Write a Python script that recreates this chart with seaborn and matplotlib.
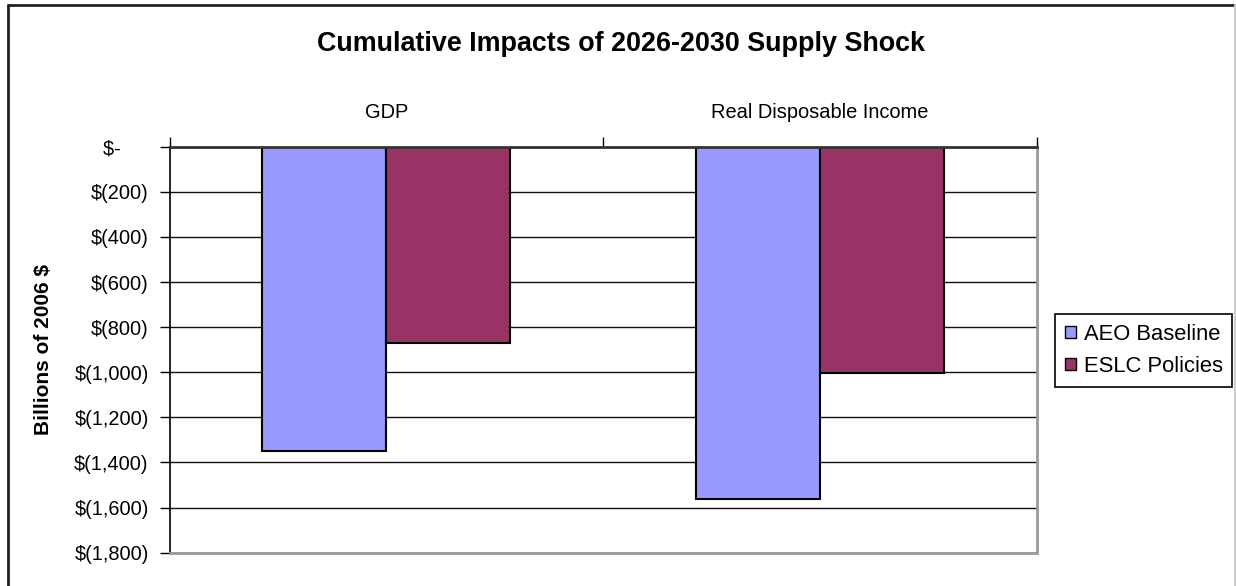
import matplotlib
matplotlib.use("Agg")
import matplotlib.pyplot as plt
import seaborn as sns
import pandas as pd
from matplotlib.ticker import FuncFormatter, FixedLocator
from matplotlib.lines import Line2D
from matplotlib.patches import Patch

# ---- data ----
categories = ["GDP", "Real Disposable Income"]
series_names = ["AEO Baseline", "ESLC Policies"]
aeo_baseline = [-1350, -1560]
eslc_policies = [-870, -1005]
colors = ["#9999FF", "#993366"]
y_ticks = [0, -200, -400, -600, -800, -1000, -1200, -1400, -1600, -1800]
title = "Cumulative Impacts of 2026-2030 Supply Shock"
ylabel = "Billions of 2006 $"

df = pd.DataFrame({
    "category": categories * 2,
    "series": [series_names[0]] * len(categories) + [series_names[1]] * len(categories),
    "value": aeo_baseline + eslc_policies,
})

sns.set_theme(style="white")
plt.rcParams["font.family"] = ["Liberation Sans", "DejaVu Sans"]
plt.rcParams["text.color"] = "black"
plt.rcParams["axes.labelcolor"] = "black"
plt.rcParams["xtick.color"] = "black"
plt.rcParams["ytick.color"] = "black"

W, H = 1236, 586
fig = plt.figure(figsize=(W / 100, H / 100), dpi=100)
fig.patch.set_facecolor("white")

L, R, T, B = 169.5, 1036.6, 146.7, 552.7
ax = fig.add_axes([L / W, 1 - B / H, (R - L) / W, (B - T) / H])

sns.barplot(data=df, x="category", y="value", hue="series", order=categories,
            hue_order=series_names, palette=colors, edgecolor="black",
            linewidth=1.5, width=0.572, gap=0, saturation=1, ax=ax, legend=False)

ax.set_ylim(min(y_ticks), max(y_ticks))
ax.set_xlim(-0.5, len(categories) - 0.5)
ax.set_yticks(y_ticks)


def fmt(v, pos):
    if v == 0:
        return "$-     "
    return "$({:,.0f})".format(abs(v))


ax.yaxis.set_major_formatter(FuncFormatter(fmt))
ax.yaxis.grid(True, color="#111111", linewidth=1.0)
ax.set_axisbelow(True)

ax.xaxis.tick_top()
ax.xaxis.set_label_position("top")
ax.set_xlabel("")
ax.tick_params(axis="x", which="major", length=0, pad=18, labelsize=14.4,
               top=True, bottom=False, colors="black")
ax.xaxis.set_minor_locator(FixedLocator([-0.5 + i for i in range(len(categories) + 1)]))
ax.tick_params(axis="x", which="minor", length=7, width=1, color="black",
               top=True, bottom=False)
ax.tick_params(axis="y", which="major", length=7, width=1, color="black",
               left=True, pad=8, labelsize=14.4, labelcolor="black")

ax.set_ylabel(ylabel, fontsize=15, fontweight="bold", color="black", va="center")
ax.yaxis.set_label_coords((44 - L) / (R - L), 0.5)

ax.spines["top"].set_color("#333333")
ax.spines["top"].set_linewidth(2)
ax.spines["left"].set_color("black")
ax.spines["left"].set_linewidth(1.2)
for s in ["right", "bottom"]:
    ax.spines[s].set_color("#9a9a9a")
    ax.spines[s].set_linewidth(2)

fig.suptitle(title, x=621 / W, y=1 - 44 / H, va="center", fontsize=19.4,
             fontweight="bold", color="black")

handles = [Patch(facecolor=c, edgecolor="black", linewidth=1) for c in colors]
leg = fig.legend(handles, series_names, loc="upper left",
                 bbox_to_anchor=(1055 / W, 1 - 314 / H), frameon=True,
                 fancybox=False, edgecolor="black", fontsize=15.8,
                 handlelength=0.5, handleheight=0.5, handletextpad=0.35,
                 labelspacing=0.5, borderpad=0.45, borderaxespad=0,
                 labelcolor="black")
leg.get_frame().set_linewidth(1.2)
leg.get_frame().set_edgecolor("black")
leg.get_frame().set_alpha(1)

# chart-area border
fig.add_artist(Line2D([7.5 / W, 1235 / W], [1 - 5 / H, 1 - 5 / H], color="#222222", lw=2))
fig.add_artist(Line2D([7.5 / W, 7.5 / W], [1 - 5 / H, 0], color="#222222", lw=2))
fig.add_artist(Line2D([1235 / W, 1235 / W], [1 - 5 / H, 0], color="#cccccc", lw=1.5))

fig.savefig("out.png", dpi=100, facecolor="white")
